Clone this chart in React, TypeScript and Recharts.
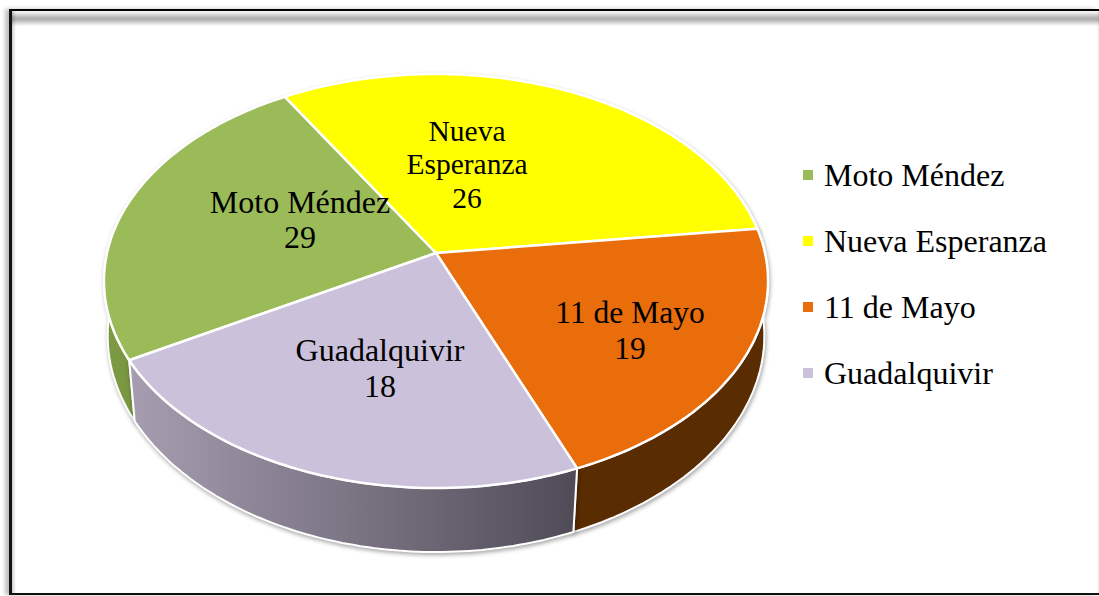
import { PieChart, Pie, Legend } from 'recharts';

// Numbers printed on the slices
const categories = ['Moto Méndez', 'Nueva Esperanza', '11 de Mayo', 'Guadalquivir'];
const printedValues = [29, 26, 19, 18];
// The drawn slices are not proportional to the printed numbers, so the sweep comes from the picture (share of the circle, %)
const sliceShares = [24.6, 31.6, 20.8, 22.9];
const topColors = ['#9BBB59', '#FFFF00', '#E96D0A', '#CCC1DA'];
const wallFills = ['url(#wallGreen)', '#FFFF00', '#5A2C02', 'url(#wallPurple)'];

const pieData = categories.map((name, i) => ({
  name,
  value: sliceShares[i],
  printed: printedValues[i],
  fill: topColors[i],
  wallFill: wallFills[i],
}));

const WIDTH = 1099;
const HEIGHT = 596;
const CX = 436;
const CY = 253;
const RADIUS = 329;
const FONT = '"Liberation Serif", "Times New Roman", serif';
const FONT_SIZE = 32;

// perspective tilt of the disc
const Y_SCALE = 203.2 / 329;
const PERSPECTIVE = 0.1353;

// label centre relative to the pie centre, one per slice
const labelOffsets = [
  { dx: -136, dy: -33, size: 32, leading: 35, lines: ['Moto Méndez'] },
  { dx: 31, dy: -89, size: 29.5, leading: 33.5, lines: ['Nueva', 'Esperanza'] },
  { dx: 194, dy: 78, size: 31.5, leading: 36, lines: ['11 de Mayo'] },
  { dx: -56, dy: 116, size: 32, leading: 36, lines: ['Guadalquivir'] },
];

const project = (cx: number, cy: number, r: number, angle: number) => {
  const rad = (angle * Math.PI) / 180;
  const u = Math.cos(rad);
  const v = Math.sin(rad);
  const w = 1 + PERSPECTIVE * v;
  return { x: cx + (r * u) / w, y: cy - (r * Y_SCALE * v) / w };
};

const angleSteps = (from: number, to: number) => {
  const steps = Math.max(2, Math.ceil(Math.abs(from - to)));
  return Array.from({ length: steps + 1 }, (_, i) => from + ((to - from) * i) / steps);
};

const toPath = (pts: { x: number; y: number }[]) =>
  pts.map((p, i) => `${i ? 'L' : 'M'}${p.x.toFixed(1)},${p.y.toFixed(1)}`).join(' ');

const TopSlice = (props: any) => {
  const { cx, cy, outerRadius, startAngle, endAngle, fill } = props;
  const pts = angleSteps(startAngle, endAngle).map((a) => project(cx, cy, outerRadius, a));
  return (
    <path
      d={`M${cx},${cy} ${toPath(pts).replace('M', 'L')} Z`}
      fill={fill}
      stroke="#fff"
      strokeWidth={2.5}
      strokeLinejoin="round"
    />
  );
};

// the lower rim pulls in and drops further towards the front of the disc
const lowerRim = (cx: number, cy: number, r: number, angle: number) => {
  const p = project(cx, cy, r, angle);
  const v = Math.sin((angle * Math.PI) / 180);
  const shrink = 0.991 + 0.018 * v;
  const depth = 58 - 6 * v;
  return { x: cx + (p.x - cx) * shrink, y: p.y + depth };
};

const WallSlice = (props: any) => {
  const { cx, cy, outerRadius, startAngle, endAngle, payload } = props;
  const angles = angleSteps(startAngle, endAngle);
  const upper = angles.map((a) => project(cx, cy, outerRadius, a));
  const lower = angles.map((a) => lowerRim(cx, cy, outerRadius, a)).reverse();
  return (
    <path
      d={`${toPath(upper)} ${toPath(lower).replace('M', 'L')} Z`}
      fill={payload.wallFill}
      stroke="#fff"
      strokeWidth={2}
      strokeLinejoin="round"
      style={{ filter: 'drop-shadow(1px 2px 2px rgba(0,0,0,0.35))' }}
    />
  );
};

const renderLabel = (props: any) => {
  const { cx, cy, index, payload } = props;
  const place = labelOffsets[index];
  const rows = [...place.lines, String(payload.printed ?? printedValues[index])];
  const top = cy + place.dy - ((rows.length - 1) * place.leading) / 2;
  return (
    <text key={index} textAnchor="middle" fontFamily={FONT} fontSize={place.size} fill="#000">
      {rows.map((row, i) => (
        <tspan key={i} x={cx + place.dx} y={top + i * place.leading + 10}>
          {row}
        </tspan>
      ))}
    </text>
  );
};

const renderLegend = (props: any) => (
  <div style={{ fontFamily: FONT, fontSize: FONT_SIZE, color: '#000' }}>
    {props.payload
      .filter((entry: any) => entry.type !== 'none')
      .map((entry: any) => (
        <div
          key={entry.value}
          style={{ height: 66, lineHeight: '66px', display: 'flex', alignItems: 'center', whiteSpace: 'nowrap' }}
        >
          <span style={{ width: 10, height: 10, background: entry.color, marginRight: 11 }} />
          {entry.value}
        </div>
      ))}
  </div>
);

const App = () => (
  <div
    style={{
      position: 'fixed',
      left: 0,
      top: 0,
      width: WIDTH,
      height: HEIGHT,
      background: '#fff',
      overflow: 'hidden',
    }}
  >
    {/* picture frame: black edge on three sides, bevel band along the top */}
    <div
      style={{
        position: 'absolute',
        left: 9,
        top: 9,
        right: 0,
        bottom: 1,
        boxSizing: 'border-box',
        borderTop: '2px solid #000',
        borderLeft: '3px solid #111',
        borderBottom: '2.5px solid #111',
        boxShadow: '-4px 0 4px rgba(0,0,0,0.25), inset 4px 0 3px -2px rgba(0,0,0,0.2), inset -3px 0 2px -2px rgba(0,0,0,0.08)',
        background:
          'linear-gradient(to bottom, #f0f0f0 0px, #f4f4f4 1px, #b0b0b0 7px, #b4b4b4 9px, #fff 15px)',
      }}
    />
    <div style={{ position: 'absolute', left: 0, top: 0 }}>
      <PieChart width={WIDTH} height={HEIGHT} margin={{ top: 0, right: 0, bottom: 0, left: 0 }}>
        <defs>
          <linearGradient id="wallGreen" gradientUnits="userSpaceOnUse" x1="104" y1="0" x2="140" y2="0">
            <stop offset="0%" stopColor="#7E9B45" />
            <stop offset="100%" stopColor="#76933F" />
          </linearGradient>
          <linearGradient id="wallPurple" gradientUnits="userSpaceOnUse" x1="130" y1="0" x2="577" y2="0">
            <stop offset="0%" stopColor="#A79DB0" />
            <stop offset="100%" stopColor="#4E4B57" />
          </linearGradient>
        </defs>
        <Pie
          data={pieData}
          dataKey="value"
          nameKey="name"
          cx={CX}
          cy={CY}
          outerRadius={RADIUS}
          startAngle={209.5}
          endAngle={-150.5}
          legendType="none"
          shape={WallSlice}
          isAnimationActive={false}
        />
        <Pie
          data={pieData}
          dataKey="value"
          nameKey="name"
          cx={CX}
          cy={CY}
          outerRadius={RADIUS}
          startAngle={209.5}
          endAngle={-150.5}
          shape={TopSlice}
          label={renderLabel}
          labelLine={false}
          isAnimationActive={false}
        />
        <Legend
          layout="vertical"
          align="right"
          verticalAlign="top"
          itemSorter={null}
          wrapperStyle={{ left: 803, right: 'auto', top: 142, width: 280 }}
          content={renderLegend}
        />
      </PieChart>
    </div>
  </div>
);

export default App;
